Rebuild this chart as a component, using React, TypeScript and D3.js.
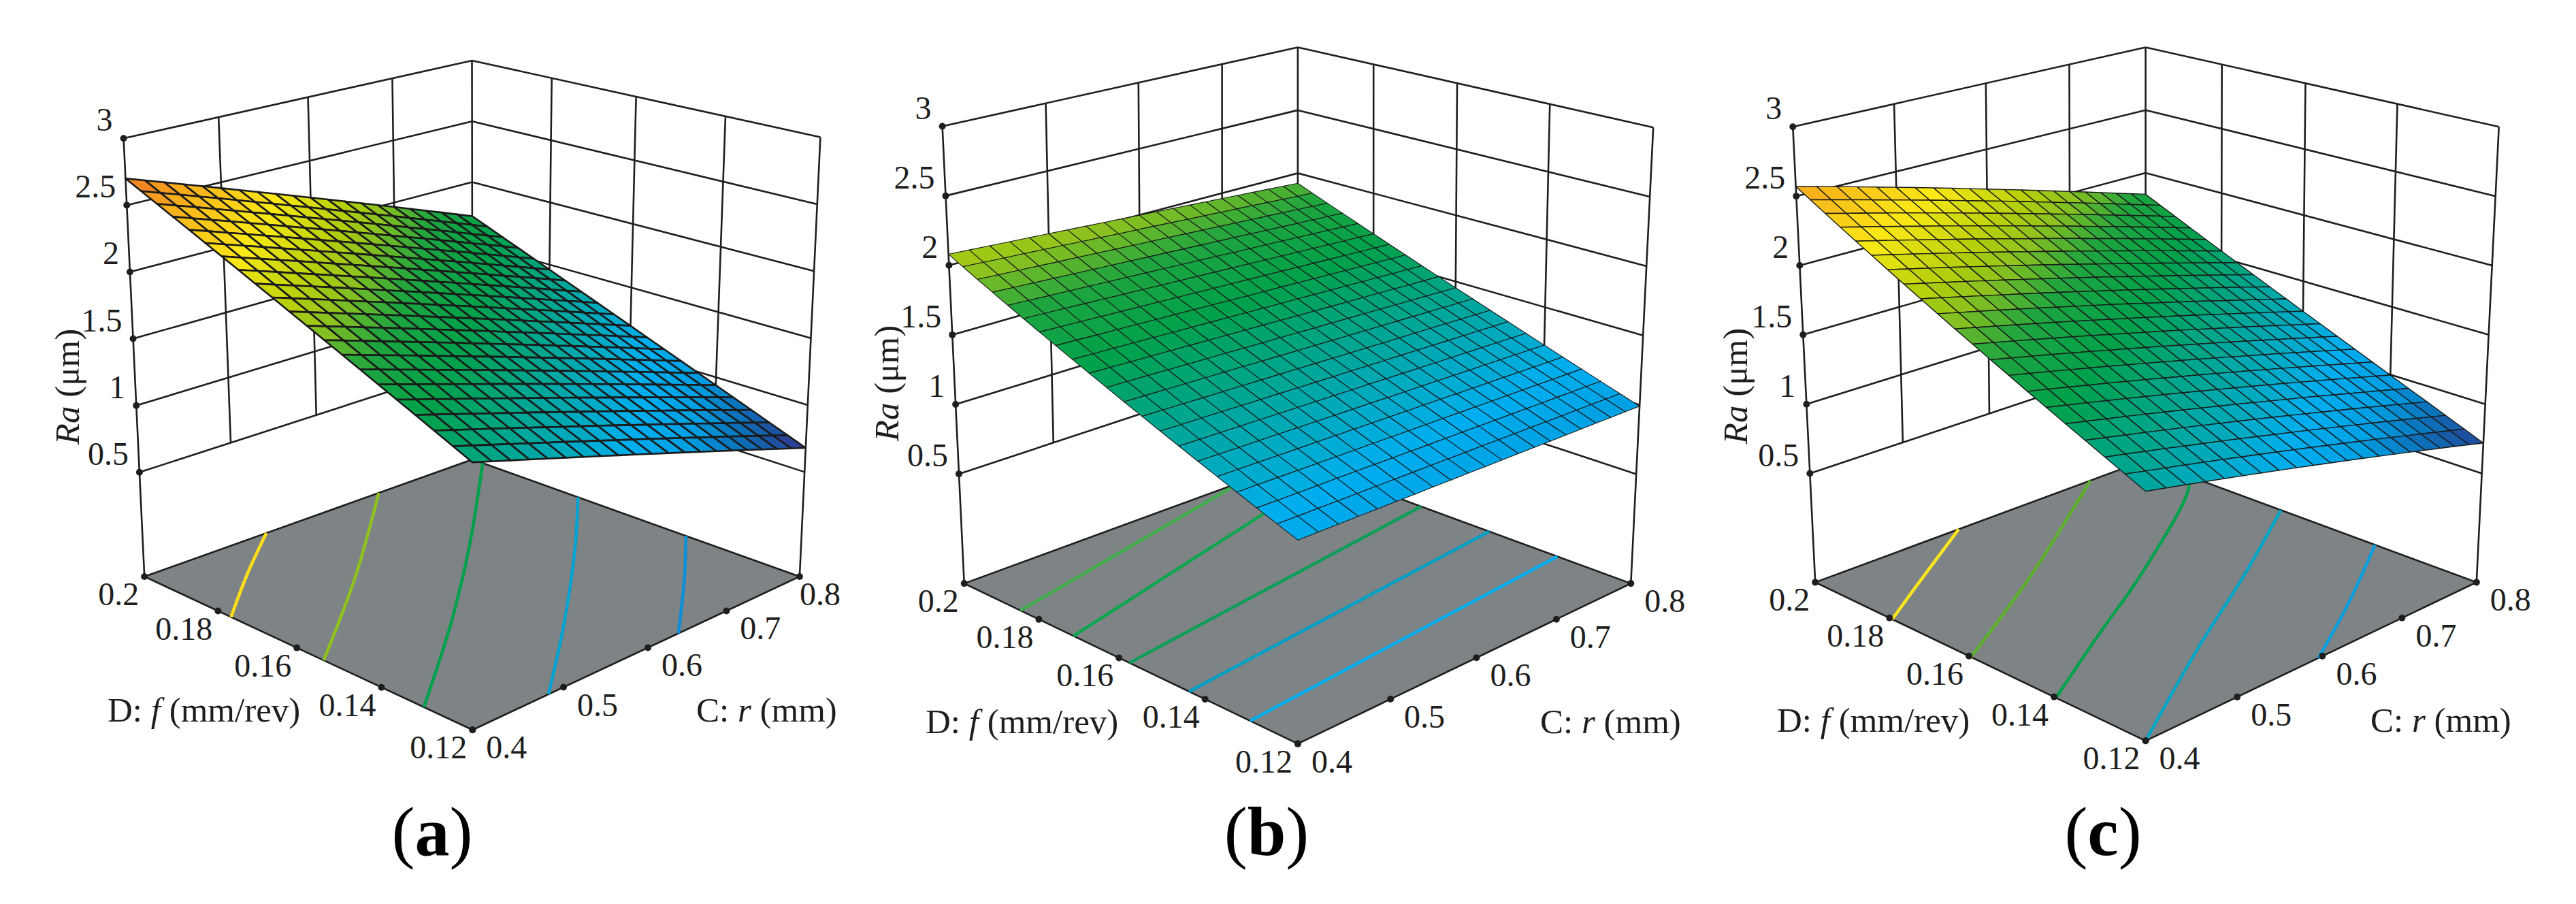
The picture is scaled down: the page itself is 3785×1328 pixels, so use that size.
import React from 'react';
import * as d3 from 'd3';

const rTicks = [0.4, 0.5, 0.6, 0.7, 0.8];
const fTicks = [0.2, 0.18, 0.16, 0.14, 0.12];
const raTicks = [0.5, 1, 1.5, 2, 2.5, 3];
const raLabels = ['0.5', '1', '1.5', '2', '2.5', '3'];

// Ra at the 21x21 mesh nodes. Rows run f = 0.12 -> 0.2, columns r = 0.4 -> 0.8.
// Estimated from the surface corners, edges and floor contour crossings in the
// picture (not each node read on its own).
const heightsA = [
  [1.500,1.459,1.418,1.377,1.336,1.295,1.254,1.213,1.172,1.131,1.090,1.049,1.008,.967,.926,.885,.844,.803,.762,.721,.680],
  [1.560,1.519,1.477,1.436,1.394,1.353,1.312,1.270,1.229,1.187,1.146,1.105,1.063,1.022,.980,.939,.898,.856,.815,.773,.732],
  [1.620,1.578,1.536,1.495,1.453,1.411,1.369,1.327,1.286,1.244,1.202,1.160,1.118,1.077,1.035,.993,.951,.909,.868,.826,.784],
  [1.680,1.638,1.596,1.553,1.511,1.469,1.427,1.385,1.342,1.300,1.258,1.216,1.174,1.131,1.089,1.047,1.005,.963,.920,.878,.836],
  [1.740,1.697,1.655,1.612,1.570,1.527,1.484,1.442,1.399,1.357,1.314,1.271,1.229,1.186,1.144,1.101,1.058,1.016,.973,.931,.888],
  [1.800,1.757,1.714,1.671,1.628,1.585,1.542,1.499,1.456,1.413,1.370,1.327,1.284,1.241,1.198,1.155,1.112,1.069,1.026,.983,.940],
  [1.860,1.817,1.773,1.730,1.686,1.643,1.600,1.556,1.513,1.469,1.426,1.383,1.339,1.296,1.252,1.209,1.166,1.122,1.079,1.035,.992],
  [1.920,1.876,1.832,1.789,1.745,1.701,1.657,1.613,1.570,1.526,1.482,1.438,1.394,1.351,1.307,1.263,1.219,1.175,1.132,1.088,1.044],
  [1.980,1.936,1.892,1.847,1.803,1.759,1.715,1.671,1.626,1.582,1.538,1.494,1.450,1.405,1.361,1.317,1.273,1.229,1.184,1.140,1.096],
  [2.040,1.995,1.951,1.906,1.862,1.817,1.772,1.728,1.683,1.639,1.594,1.549,1.505,1.460,1.416,1.371,1.326,1.282,1.237,1.193,1.148],
  [2.100,2.055,2.010,1.965,1.920,1.875,1.830,1.785,1.740,1.695,1.650,1.605,1.560,1.515,1.470,1.425,1.380,1.335,1.290,1.245,1.200],
  [2.160,2.115,2.069,2.024,1.978,1.933,1.888,1.842,1.797,1.751,1.706,1.661,1.615,1.570,1.524,1.479,1.434,1.388,1.343,1.297,1.252],
  [2.220,2.174,2.128,2.083,2.037,1.991,1.945,1.899,1.854,1.808,1.762,1.716,1.670,1.625,1.579,1.533,1.487,1.441,1.396,1.350,1.304],
  [2.280,2.234,2.188,2.141,2.095,2.049,2.003,1.957,1.910,1.864,1.818,1.772,1.726,1.679,1.633,1.587,1.541,1.495,1.448,1.402,1.356],
  [2.340,2.293,2.247,2.200,2.154,2.107,2.060,2.014,1.967,1.921,1.874,1.827,1.781,1.734,1.688,1.641,1.594,1.548,1.501,1.455,1.408],
  [2.400,2.353,2.306,2.259,2.212,2.165,2.118,2.071,2.024,1.977,1.930,1.883,1.836,1.789,1.742,1.695,1.648,1.601,1.554,1.507,1.460],
  [2.460,2.413,2.365,2.318,2.270,2.223,2.176,2.128,2.081,2.033,1.986,1.939,1.891,1.844,1.796,1.749,1.702,1.654,1.607,1.559,1.512],
  [2.520,2.472,2.424,2.377,2.329,2.281,2.233,2.185,2.138,2.090,2.042,1.994,1.946,1.899,1.851,1.803,1.755,1.707,1.660,1.612,1.564],
  [2.580,2.532,2.484,2.435,2.387,2.339,2.291,2.243,2.194,2.146,2.098,2.050,2.002,1.953,1.905,1.857,1.809,1.761,1.712,1.664,1.616],
  [2.640,2.591,2.543,2.494,2.446,2.397,2.348,2.300,2.251,2.203,2.154,2.105,2.057,2.008,1.960,1.911,1.862,1.814,1.765,1.717,1.668],
  [2.700,2.651,2.602,2.553,2.504,2.455,2.406,2.357,2.308,2.259,2.210,2.161,2.112,2.063,2.014,1.965,1.916,1.867,1.818,1.769,1.720],
];

const heightsB = [
  [1.080,1.076,1.071,1.067,1.062,1.058,1.053,1.049,1.044,1.040,1.035,1.031,1.026,1.022,1.017,1.013,1.008,1.004,.999,.995,.990],
  [1.130,1.125,1.121,1.116,1.111,1.107,1.102,1.097,1.093,1.088,1.083,1.079,1.074,1.069,1.065,1.060,1.055,1.051,1.046,1.041,1.037],
  [1.180,1.175,1.170,1.165,1.161,1.156,1.151,1.146,1.141,1.136,1.132,1.127,1.122,1.117,1.112,1.107,1.102,1.098,1.093,1.088,1.083],
  [1.230,1.225,1.220,1.215,1.210,1.205,1.200,1.195,1.190,1.185,1.180,1.175,1.170,1.165,1.160,1.155,1.150,1.145,1.140,1.135,1.130],
  [1.280,1.275,1.270,1.264,1.259,1.254,1.249,1.244,1.238,1.233,1.228,1.223,1.218,1.212,1.207,1.202,1.197,1.192,1.186,1.181,1.176],
  [1.330,1.325,1.319,1.314,1.309,1.303,1.298,1.292,1.287,1.282,1.276,1.271,1.266,1.260,1.255,1.249,1.244,1.239,1.233,1.228,1.223],
  [1.380,1.374,1.369,1.363,1.358,1.352,1.347,1.341,1.336,1.330,1.325,1.319,1.313,1.308,1.302,1.297,1.291,1.286,1.280,1.275,1.269],
  [1.430,1.424,1.419,1.413,1.407,1.401,1.396,1.390,1.384,1.378,1.373,1.367,1.361,1.356,1.350,1.344,1.338,1.333,1.327,1.321,1.316],
  [1.480,1.474,1.468,1.462,1.456,1.451,1.445,1.439,1.433,1.427,1.421,1.415,1.409,1.403,1.397,1.392,1.386,1.380,1.374,1.368,1.362],
  [1.530,1.524,1.518,1.512,1.506,1.500,1.494,1.487,1.481,1.475,1.469,1.463,1.457,1.451,1.445,1.439,1.433,1.427,1.421,1.415,1.409],
  [1.580,1.574,1.568,1.561,1.555,1.549,1.543,1.536,1.530,1.524,1.518,1.511,1.505,1.499,1.493,1.486,1.480,1.474,1.468,1.461,1.455],
  [1.630,1.624,1.617,1.611,1.604,1.598,1.591,1.585,1.579,1.572,1.566,1.559,1.553,1.546,1.540,1.534,1.527,1.521,1.514,1.508,1.502],
  [1.680,1.673,1.667,1.660,1.654,1.647,1.640,1.634,1.627,1.621,1.614,1.607,1.601,1.594,1.588,1.581,1.574,1.568,1.561,1.555,1.548],
  [1.730,1.723,1.716,1.710,1.703,1.696,1.689,1.683,1.676,1.669,1.662,1.655,1.649,1.642,1.635,1.628,1.622,1.615,1.608,1.601,1.595],
  [1.780,1.773,1.766,1.759,1.752,1.745,1.738,1.731,1.724,1.717,1.711,1.704,1.697,1.690,1.683,1.676,1.669,1.662,1.655,1.648,1.641],
  [1.830,1.823,1.816,1.809,1.802,1.794,1.787,1.780,1.773,1.766,1.759,1.752,1.745,1.737,1.730,1.723,1.716,1.709,1.702,1.695,1.688],
  [1.880,1.873,1.865,1.858,1.851,1.844,1.836,1.829,1.822,1.814,1.807,1.800,1.792,1.785,1.778,1.771,1.763,1.756,1.749,1.741,1.734],
  [1.930,1.923,1.915,1.908,1.900,1.893,1.885,1.878,1.870,1.863,1.855,1.848,1.840,1.833,1.825,1.818,1.810,1.803,1.795,1.788,1.781],
  [1.980,1.972,1.965,1.957,1.949,1.942,1.934,1.926,1.919,1.911,1.904,1.896,1.888,1.881,1.873,1.865,1.858,1.850,1.842,1.835,1.827],
  [2.030,2.022,2.014,2.007,1.999,1.991,1.983,1.975,1.967,1.960,1.952,1.944,1.936,1.928,1.920,1.913,1.905,1.897,1.889,1.881,1.874],
  [2.080,2.072,2.064,2.056,2.048,2.040,2.032,2.024,2.016,2.008,2.000,1.992,1.984,1.976,1.968,1.960,1.952,1.944,1.936,1.928,1.920],
];

const heightsC = [
  [1.380,1.347,1.314,1.281,1.248,1.215,1.182,1.149,1.116,1.083,1.050,1.017,.984,.951,.918,.885,.852,.819,.786,.753,.720],
  [1.440,1.406,1.373,1.340,1.307,1.274,1.240,1.207,1.174,1.141,1.108,1.074,1.041,1.008,.975,.942,.908,.875,.842,.809,.776],
  [1.499,1.466,1.432,1.399,1.365,1.332,1.299,1.265,1.232,1.198,1.165,1.132,1.098,1.065,1.031,.998,.965,.931,.898,.864,.831],
  [1.559,1.525,1.491,1.458,1.424,1.391,1.357,1.323,1.290,1.256,1.223,1.189,1.155,1.122,1.088,1.055,1.021,.987,.954,.920,.887],
  [1.618,1.584,1.550,1.517,1.483,1.449,1.415,1.381,1.348,1.314,1.280,1.246,1.212,1.179,1.145,1.111,1.077,1.043,1.010,.976,.942],
  [1.678,1.644,1.610,1.576,1.542,1.508,1.474,1.440,1.406,1.372,1.338,1.304,1.270,1.236,1.202,1.168,1.134,1.100,1.066,1.032,.998],
  [1.737,1.703,1.669,1.634,1.600,1.566,1.532,1.498,1.463,1.429,1.395,1.361,1.327,1.292,1.258,1.224,1.190,1.156,1.121,1.087,1.053],
  [1.797,1.762,1.728,1.693,1.659,1.625,1.590,1.556,1.521,1.487,1.453,1.418,1.384,1.349,1.315,1.281,1.246,1.212,1.177,1.143,1.109],
  [1.856,1.821,1.787,1.752,1.718,1.683,1.648,1.614,1.579,1.545,1.510,1.475,1.441,1.406,1.372,1.337,1.302,1.268,1.233,1.199,1.164],
  [1.916,1.881,1.846,1.811,1.776,1.742,1.707,1.672,1.637,1.602,1.568,1.533,1.498,1.463,1.428,1.394,1.359,1.324,1.289,1.254,1.220],
  [1.975,1.940,1.905,1.870,1.835,1.800,1.765,1.730,1.695,1.660,1.625,1.590,1.555,1.520,1.485,1.450,1.415,1.380,1.345,1.310,1.275],
  [2.035,1.999,1.964,1.929,1.894,1.859,1.823,1.788,1.753,1.718,1.683,1.647,1.612,1.577,1.542,1.507,1.471,1.436,1.401,1.366,1.331],
  [2.094,2.059,2.023,1.988,1.952,1.917,1.882,1.846,1.811,1.775,1.740,1.705,1.669,1.634,1.598,1.563,1.528,1.492,1.457,1.421,1.386],
  [2.154,2.118,2.082,2.047,2.011,1.976,1.940,1.904,1.869,1.833,1.798,1.762,1.726,1.691,1.655,1.620,1.584,1.548,1.513,1.477,1.442],
  [2.213,2.177,2.141,2.106,2.070,2.034,1.998,1.962,1.927,1.891,1.855,1.819,1.783,1.748,1.712,1.676,1.640,1.604,1.569,1.533,1.497],
  [2.273,2.237,2.201,2.165,2.129,2.093,2.057,2.021,1.985,1.949,1.913,1.877,1.841,1.805,1.769,1.733,1.697,1.661,1.625,1.589,1.553],
  [2.332,2.296,2.260,2.223,2.187,2.151,2.115,2.079,2.042,2.006,1.970,1.934,1.898,1.861,1.825,1.789,1.753,1.717,1.680,1.644,1.608],
  [2.392,2.355,2.319,2.282,2.246,2.210,2.173,2.137,2.100,2.064,2.028,1.991,1.955,1.918,1.882,1.846,1.809,1.773,1.736,1.700,1.664],
  [2.451,2.414,2.378,2.341,2.305,2.268,2.231,2.195,2.158,2.122,2.085,2.048,2.012,1.975,1.939,1.902,1.865,1.829,1.792,1.756,1.719],
  [2.511,2.474,2.437,2.400,2.363,2.327,2.290,2.253,2.216,2.179,2.143,2.106,2.069,2.032,1.995,1.959,1.922,1.885,1.848,1.811,1.775],
  [2.570,2.533,2.496,2.459,2.422,2.385,2.348,2.311,2.274,2.237,2.200,2.163,2.126,2.089,2.052,2.015,1.978,1.941,1.904,1.867,1.830],
];

// floor contours as [r, f] pairs
const contoursA = [
  [[0.4, 0.1766], [0.4667, 0.1884], [0.537, 0.2]],
  [[0.4, 0.1535], [0.5286, 0.1743], [0.675, 0.2]],
  [[0.4, 0.1305], [0.521, 0.1492], [0.6427, 0.1694], [0.8, 0.1972]],
  [[0.483, 0.12], [0.587, 0.136], [0.709, 0.156], [0.8, 0.172]],
  [[0.638, 0.12], [0.729, 0.134], [0.8, 0.1456]],
];
const contoursB = [
  [[0.4, 0.1848], [0.7236, 0.2]],
  [[0.4, 0.1712], [0.8, 0.1919]],
  [[0.4, 0.1575], [0.8, 0.168]],
  [[0.4, 0.1436], [0.8, 0.1516]],
  [[0.4, 0.1301], [0.8, 0.136]],
];
const contoursC = [
  [[0.4, 0.1793], [0.473, 0.1887], [0.562, 0.2]],
  [[0.4, 0.1595], [0.538, 0.1757], [0.726, 0.2]],
  [[0.4, 0.1396], [0.5065, 0.1516], [0.605, 0.1624], [0.777, 0.184], [0.8, 0.1888]],
  [[0.4, 0.12], [0.544, 0.1365], [0.668, 0.1498], [0.8, 0.1649]],
  [[0.595, 0.12], [0.687, 0.1296], [0.8, 0.1425]],
];

const contourColorsA = ['#ffde17', '#8dc21f', '#00a14b', '#00a3d2', '#0a8fd8'];
const contourColorsB = ['#3fae49', '#0da64f', '#0e9e5a', '#00a0c6', '#00aeef'];
const contourColorsC = ['#fce51f', '#5fb02f', '#00a14b', '#00a5c8', '#0a9ede'];

const color = d3.scaleLinear<string>()
  .domain([0.68, 0.76, 0.88, 1.0, 1.15, 1.4, 1.65, 1.85, 2.0, 2.1, 2.3, 2.55, 2.72])
  .range(['#37308e', '#1f4fa0', '#0b74bc', '#00a0e3', '#00aeef', '#00a79d', '#00a14b', '#1fa53f', '#8dc21f', '#b4cf0b', '#fbe816', '#f7ab1c', '#ea6a25']);

const INK = '#1e1e1e';
const FONT = '"Liberation Serif", serif';

// screen corners of the box: floor and top, each as left, back, right, front
const panels = [
  {
    name: 'a', heights: heightsA, contours: contoursA, contourColors: contourColorsA, meshWidth: 2.6, zFloor: -0.281,
    floor: [[212.2, 847], [694.3, 675], [1174.9, 847], [694.3, 1072.2]],
    top: [[181.6, 203.3], [693.5, 88.9], [1205.4, 201.6], [694.3, 348.1]],
    dTitle: [158, 1060], cTitle: [1023, 1060], raTitle: [116, 568], caption: [635, 1256], lastRDx: 0,
  },
  {
    name: 'b', heights: heightsB, contours: contoursB, contourColors: contourColorsB, meshWidth: 1.1, zFloor: -0.288,
    floor: [[1416.7, 857.1], [1906.9, 677.6], [2396.3, 857.1], [1906.9, 1092.6]],
    top: [[1384.6, 185.5], [1906.9, 69.4], [2429.2, 187.2], [1906.9, 373.5]],
    dTitle: [1360, 1077], cTitle: [2263, 1077], raTitle: [1320, 563], caption: [1861, 1256], lastRDx: 20,
  },
  {
    name: 'c', heights: heightsC, contours: contoursC, contourColors: contourColorsC, meshWidth: 1.4, zFloor: -0.285,
    floor: [[2667.2, 855.4], [3152.6, 675.9], [3638.8, 855.4], [3152.6, 1088.3]],
    top: [[2634.3, 186.3], [3152.6, 69.4], [3671.7, 186.3], [3152.6, 365]],
    dTitle: [2611, 1075], cTitle: [3483, 1075], raTitle: [2567, 567], caption: [3090, 1256], lastRDx: 20,
  },
];

const uScale = d3.scaleLinear().domain([0.4, 0.8]).range([0, 1]);
const vScale = d3.scaleLinear().domain([0.2, 0.12]).range([0, 1]);
const nodeR = d3.scaleLinear().domain([0, 20]).range([0.4, 0.8]);
const nodeF = d3.scaleLinear().domain([0, 20]).range([0.12, 0.2]);

// unit square -> quad [p00, p10, p11, p01]
function quadMap([p00, p10, p11, p01]: number[][]) {
  const dx1 = p10[0] - p11[0], dy1 = p10[1] - p11[1];
  const dx2 = p01[0] - p11[0], dy2 = p01[1] - p11[1];
  const sx = p00[0] - p10[0] + p11[0] - p01[0];
  const sy = p00[1] - p10[1] + p11[1] - p01[1];
  const den = dx1 * dy2 - dx2 * dy1;
  const g = (sx * dy2 - dx2 * sy) / den;
  const h = (dx1 * sy - sx * dy1) / den;
  const a = p10[0] - p00[0] + g * p10[0], b = p01[0] - p00[0] + h * p01[0];
  const d = p10[1] - p00[1] + g * p10[1], e = p01[1] - p00[1] + h * p01[1];
  return (u: number, v: number) => {
    const w = 1 + g * u + h * v;
    return [(a * u + b * v + p00[0]) / w, (d * u + e * v + p00[1]) / w];
  };
}

const segment = d3.line();
const closed = d3.line().curve(d3.curveLinearClosed);
const smooth = d3.line().curve(d3.curveCatmullRom);

function Panel({ p }: { p: (typeof panels)[number] }) {
  const floorMap = quadMap(p.floor);
  const topMap = quadMap(p.top);
  const zScale = d3.scaleLinear().domain([p.zFloor, 3]).range([0, 1]);
  const project = (r: number, f: number, z: number) => {
    const a = floorMap(uScale(r), vScale(f));
    const b = topMap(uScale(r), vScale(f));
    const t = zScale(z);
    return [a[0] + (b[0] - a[0]) * t, a[1] + (b[1] - a[1]) * t];
  };
  const rInner = rTicks.slice(1, -1);
  const fInner = fTicks.slice(1, -1);
  const corners = [[0.4, 0.2], [0.8, 0.2], [0.8, 0.12]];
  const wall: number[][][] = [
    ...raTicks.flatMap(z => [
      [project(0.4, 0.2, z), project(0.8, 0.2, z)],
      [project(0.8, 0.2, z), project(0.8, 0.12, z)],
    ]),
    ...rInner.map(r => [project(r, 0.2, 0.5), project(r, 0.2, 3)]),
    ...fInner.map(f => [project(0.8, f, 0.5), project(0.8, f, 3)]),
    ...corners.map(([r, f]) => [project(r, f, p.zFloor), project(r, f, 3)]),
  ];
  const floorQuad = [
    project(0.4, 0.2, p.zFloor), project(0.8, 0.2, p.zFloor),
    project(0.8, 0.12, p.zFloor), project(0.4, 0.12, p.zFloor),
  ];
  const cells: { d: string; fill: string }[] = [];
  for (let j = 19; j >= 0; j--) {
    for (let i = 0; i < 20; i++) {
      const h = p.heights;
      const q = [
        project(nodeR(i), nodeF(j), h[j][i]),
        project(nodeR(i + 1), nodeF(j), h[j][i + 1]),
        project(nodeR(i + 1), nodeF(j + 1), h[j + 1][i + 1]),
        project(nodeR(i), nodeF(j + 1), h[j + 1][i]),
      ];
      const mean = (h[j][i] + h[j][i + 1] + h[j + 1][i + 1] + h[j + 1][i]) / 4;
      cells.push({ d: closed(q as any) as string, fill: color(mean) });
    }
  }
  const text = { fontFamily: FONT, fontSize: 48, fill: INK };
  const title = { fontFamily: FONT, fontSize: 51, fill: INK };
  return (
    <g>
      <path d={closed(floorQuad as any) as string} fill="#7e8385" stroke={INK} strokeWidth={2.6} />
      {p.contours.map((c, k) => (
        <path key={k} d={smooth(c.map(([r, f]) => project(r, f, p.zFloor)) as any) as string}
          fill="none" stroke={p.contourColors[k]} strokeWidth={4.6} />
      ))}
      <path d={wall.map(s => segment(s as any)).join('')} fill="none" stroke={INK} strokeWidth={2.6} />
      {cells.map((c, k) => (
        <path key={k} d={c.d} fill={c.fill} stroke="#1a1a1a" strokeWidth={p.meshWidth} strokeLinejoin="round" />
      ))}
      {raTicks.map((z, k) => {
        const [x, y] = project(0.4, 0.2, z);
        return (
          <g key={k}>
            <circle cx={x} cy={y} r={5} fill={INK} />
            <text x={x - 16} y={y - 11} textAnchor="end" {...text}>{raLabels[k]}</text>
          </g>
        );
      })}
      {fTicks.map((f, k) => {
        const [x, y] = project(0.4, f, p.zFloor);
        return (
          <g key={k}>
            <circle cx={x} cy={y} r={5} fill={INK} />
            <text x={x - 8} y={y + 42} textAnchor="end" {...text}>{String(f)}</text>
          </g>
        );
      })}
      {rTicks.map((r, k) => {
        const [x, y] = project(r, 0.12, p.zFloor);
        return (
          <g key={k}>
            <circle cx={x} cy={y} r={5} fill={INK} />
            <text x={x + (r === 0.8 ? p.lastRDx : 20)} y={y + 42} {...text}>{String(r)}</text>
          </g>
        );
      })}
      <text x={p.dTitle[0]} y={p.dTitle[1]} {...title}>D: <tspan fontStyle="italic">f</tspan> (mm/rev)</text>
      <text x={p.cTitle[0]} y={p.cTitle[1]} {...title}>C: <tspan fontStyle="italic">r</tspan> (mm)</text>
      <text transform={`translate(${p.raTitle[0]},${p.raTitle[1]}) rotate(-90)`} textAnchor="middle" {...title}>
        <tspan fontStyle="italic">Ra</tspan> (μm)
      </text>
      <text x={p.caption[0]} y={p.caption[1]} textAnchor="middle" fontFamily={FONT} fontSize={102} fill="#000">
        (<tspan fontWeight="bold">{p.name}</tspan>)
      </text>
    </g>
  );
}

export default function App() {
  return (
    <svg width={3785} height={1328} viewBox="0 0 3785 1328"
      style={{ position: 'absolute', left: 0, top: 0, display: 'block', background: '#fff' }}>
      {panels.map(p => <Panel key={p.name} p={p} />)}
    </svg>
  );
}
